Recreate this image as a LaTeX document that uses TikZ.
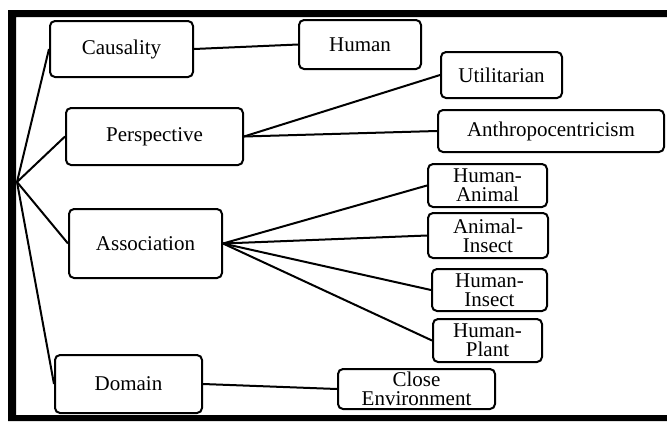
\documentclass[tikz,border=0pt]{standalone}
\usepackage{fontspec}
\setmainfont{Liberation Serif}
\usetikzlibrary{positioning}

\begin{document}
\begin{tikzpicture}[
        x=1pt, y=-1pt,
        box/.style={draw, line width=2pt, rounded corners=5pt, align=center, inner sep=2pt,
            font=\fontsize{21}{19}\selectfont},
        link/.style={line width=2pt}
    ]
        \useasboundingbox (0,0) rectangle (667,421);

        % --- Frame (open on the right) ---
        \fill (8,10) -- (667,10) -- (667,17) -- (16,17) -- (16,415) -- (667,415)
            -- (667,421) -- (8,421) -- cycle;
        \coordinate (root) at (17,182);

        % --- First level ---
        \node[box, minimum width=143pt, minimum height=56pt] (causality) at (121.5,49) {Causality};
        \node[box, minimum width=177pt, minimum height=57pt] (perspective) at (154.5,136.5) {Perspective};
        \node[box, minimum width=153pt, minimum height=69pt] (association) at (145.5,243.5) {Association};
        \node[box, minimum width=147pt, minimum height=58pt] (domain) at (128.5,384) {Domain};

        % --- Second level ---
        \node[box, minimum width=122pt, minimum height=49pt] (human) at (360,44.5) {Human};
        \node[box, minimum width=121pt, minimum height=46pt] (utilitarian) at (501.5,75) {Utilitarian};
        \node[box, minimum width=226pt, minimum height=42pt] (anthropo) at (551,131) {Anthropocentricism};
        \node[box, minimum width=119pt, minimum height=43pt] (humananimal) at (487.5,185.5) {Human-\\Animal};
        \node[box, minimum width=120pt, minimum height=45pt] (animalinsect) at (488,235.5) {Animal-\\Insect};
        \node[box, minimum width=115pt, minimum height=42pt] (humaninsect) at (489.5,290) {Human-\\Insect};
        \node[box, minimum width=109pt, minimum height=43pt] (humanplant) at (487.5,340.5) {Human-\\Plant};
        \node[box, minimum width=157pt, minimum height=40pt] (closeenv) at (416.5,389) {Close\\Environment};

        % --- Connectors ---
        \foreach \n in {causality, perspective, association, domain}
            \draw[link] (root) -- (\n.west);
        \draw[link] (causality.east) -- (human.west);
        \draw[link] (perspective.east) -- (utilitarian.west);
        \draw[link] (perspective.east) -- (anthropo.west);
        \foreach \n in {humananimal, animalinsect, humaninsect, humanplant}
            \draw[link] (association.east) -- (\n.west);
        \draw[link] (domain.east) -- (closeenv.west);

    \end{tikzpicture}
\end{document}
